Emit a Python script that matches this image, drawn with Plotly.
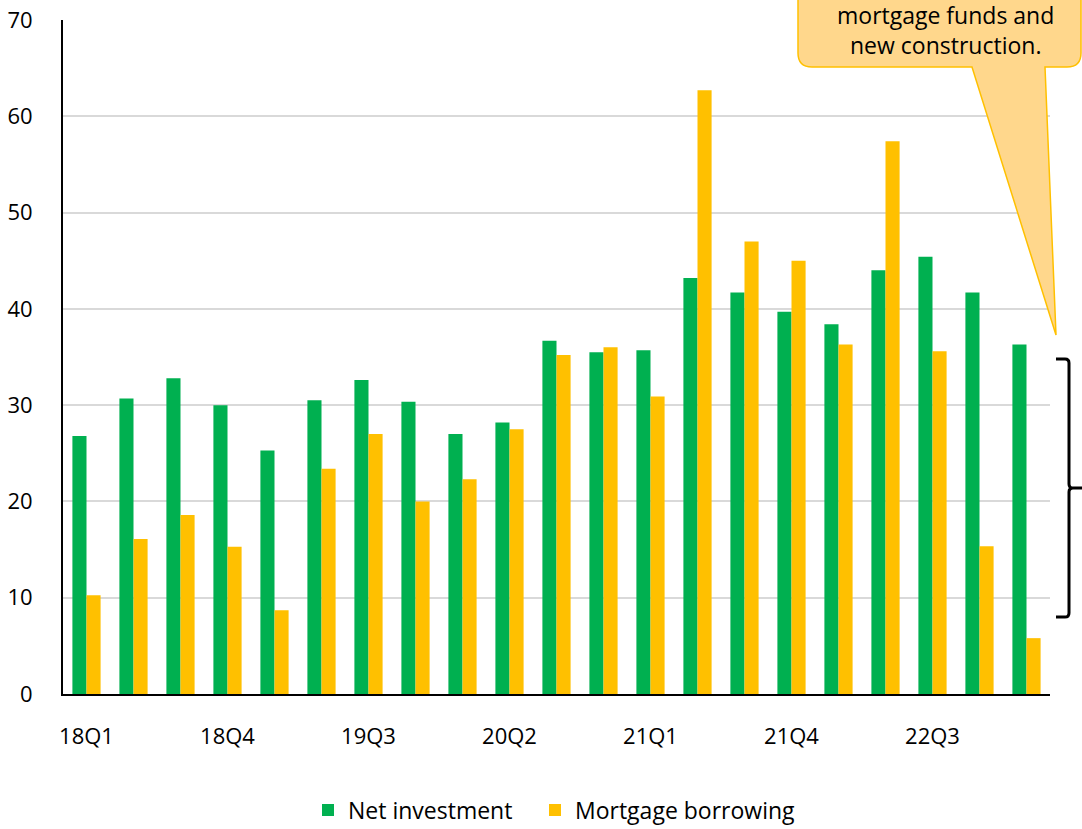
import plotly.graph_objects as go

# Quarterly series
quarters = [
    "18Q1", "18Q2", "18Q3", "18Q4", "19Q1", "19Q2", "19Q3", "19Q4",
    "20Q1", "20Q2", "20Q3", "20Q4", "21Q1", "21Q2", "21Q3", "21Q4",
    "22Q1", "22Q2", "22Q3", "22Q4", "23Q1",
]
net_investment = [
    26.8, 30.7, 32.8, 30.0, 25.3, 30.5, 32.6, 30.35,
    27.0, 28.2, 36.7, 35.5, 35.7, 43.2, 41.7, 39.7,
    38.4, 44.0, 45.4, 41.7, 36.3,
]
mortgage_borrowing = [
    10.25, 16.1, 18.6, 15.3, 8.7, 23.4, 27.0, 20.0,
    22.3, 27.5, 35.2, 36.0, 30.9, 62.7, 47.0, 45.0,
    36.3, 57.4, 35.6, 15.35, 5.8,
]
tick_labels = ["18Q1", "18Q4", "19Q3", "20Q2", "21Q1", "21Q4", "22Q3"]
callout_lines = ["mortgage funds and", "new construction."]
y_max = 70

W, H = 1082, 829
L, R, T, B = 63, 32, 20, 135
PW, PH = W - L - R, H - T - B
FONT = "Open Sans"


def px(x):
    """Pixel x -> paper x."""
    return (x - L) / PW


def py(y):
    """Pixel y -> paper y."""
    return (H - B - y) / PH


def path_from_pixels(cmds):
    out = []
    for c in cmds:
        op, pts = c[0], c[1:]
        coords = " ".join(f"{px(a):.5f},{py(b):.5f}" for a, b in pts)
        out.append(f"{op}{coords}")
    return " ".join(out) + " Z"


fig = go.Figure()
fig.add_trace(go.Bar(x=quarters, y=net_investment, name="Net investment",
                     legend="legend",
                     marker=dict(color="#00B050", line=dict(width=0))))
fig.add_trace(go.Bar(x=quarters, y=mortgage_borrowing, name="Mortgage borrowing",
                     legend="legend2",
                     marker=dict(color="#FFC000", line=dict(width=0))))

# speech-bubble callout in the top-right corner
bubble = path_from_pixels([
    ("M", (798, -10)), ("L", (798, 53)), ("Q", (798, 67), (812, 67)),
    ("L", (972, 67)), ("L", (1056, 335)), ("L", (1045, 67)),
    ("L", (1067, 67)), ("Q", (1081, 67), (1081, 53)), ("L", (1081, -10)),
])
shapes = [dict(type="path", xref="paper", yref="paper", path=bubble,
               fillcolor="#FFD78C", line=dict(color="#FFC000", width=1.5),
               layer="above")]

# right-hand brace spanning the latest quarter's range
b_top, b_mid, b_bot = 34.8, 21.4, 8.0
bx0, bx1, bx2 = px(1056), px(1069), px(1082)
r = 0.006
brace = (
    f"M{bx0},{b_top / y_max} L{bx1 - 0.004},{b_top / y_max} "
    f"Q{bx1},{b_top / y_max} {bx1},{b_top / y_max - r} "
    f"L{bx1},{b_mid / y_max + r} Q{bx1},{b_mid / y_max} {bx1 + 0.004},{b_mid / y_max} "
    f"L{bx2},{b_mid / y_max} M{bx1 + 0.004},{b_mid / y_max} "
    f"Q{bx1},{b_mid / y_max} {bx1},{b_mid / y_max - r} "
    f"L{bx1},{b_bot / y_max + r} Q{bx1},{b_bot / y_max} {bx1 - 0.004},{b_bot / y_max} "
    f"L{bx0},{b_bot / y_max}"
)
shapes.append(dict(type="path", xref="paper", yref="paper", path=brace,
                   line=dict(color="black", width=3), layer="above"))

annotations = [
    dict(text=callout_lines[0], x=px(945), y=py(15), xref="paper", yref="paper",
         showarrow=False, xanchor="center", yanchor="middle",
         font=dict(family=FONT, size=23, color="black")),
    dict(text=callout_lines[1], x=px(945), y=py(45), xref="paper", yref="paper",
         showarrow=False, xanchor="center", yanchor="middle",
         font=dict(family=FONT, size=23, color="black")),
]

legend_style = dict(orientation="h", yanchor="middle", xanchor="left",
                    y=py(810), font=dict(size=23), itemwidth=30,
                    bgcolor="rgba(0,0,0,0)")

fig.update_layout(
    width=W, height=H,
    margin=dict(l=L, r=R, t=T, b=B, autoexpand=False),
    paper_bgcolor="white", plot_bgcolor="white",
    barmode="group", bargap=0.4, bargroupgap=0,
    font=dict(family=FONT, size=22, color="black"),
    showlegend=True,
    legend=dict(legend_style, x=px(308)),
    legend2=dict(legend_style, x=px(535)),
    shapes=shapes,
    annotations=annotations,
)
fig.update_xaxes(
    type="category", tickmode="array", tickvals=tick_labels, ticktext=tick_labels,
    showgrid=False, showline=True, linecolor="black", linewidth=2,
    ticks="", ticklabelstandoff=22, tickfont=dict(size=22),
)
fig.update_yaxes(
    range=[0, y_max], dtick=10, showgrid=True, gridcolor="#D9D9D9", gridwidth=1.5,
    zeroline=False, showline=True, linecolor="black", linewidth=2,
    ticks="", ticklabelstandoff=24, tickfont=dict(size=22),
)

fig.write_html("out.html")
